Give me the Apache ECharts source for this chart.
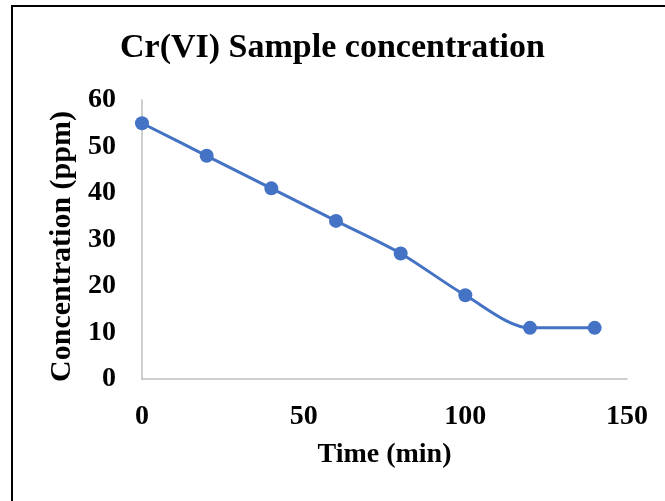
<!DOCTYPE html>
<html>
<head>
<meta charset="utf-8">
<script src="https://cdn.jsdelivr.net/npm/echarts@6/dist/echarts.min.js"></script>
<style>
  html, body { margin: 0; padding: 0; background: #fff; }
  #chart { width: 665px; height: 501px; }
</style>
</head>
<body>
<div id="chart"></div>
<script>
// time (min) and Cr(VI) concentration (ppm)
const timeMin = [0, 20, 40, 60, 80, 100, 120, 140]
const concPpm = [55, 48, 41, 34, 27, 18, 11, 11]

const serif = '"Liberation Serif", "Times New Roman", serif'
const chart = echarts.init(document.getElementById('chart'))

chart.setOption({
  backgroundColor: '#fff',
  animation: false,
  title: {
    text: 'Cr(VI) Sample concentration',
    left: 'center',
    top: 26,
    textStyle: { fontFamily: serif, fontSize: 34, fontWeight: 'bold', color: '#000' }
  },
  graphic: [{
    // chart frame, runs off the right and bottom edges
    type: 'rect',
    shape: { x: 12, y: 6, width: 660, height: 500 },
    style: { fill: 'none', stroke: '#000', lineWidth: 2 }
  }],
  grid: { left: 142, top: 100, right: 38, bottom: 122 },
  xAxis: {
    type: 'value',
    min: 0,
    max: 150,
    interval: 50,
    name: 'Time (min)',
    nameLocation: 'middle',
    nameGap: 62,
    nameTextStyle: { fontFamily: serif, fontSize: 28, fontWeight: 'bold', color: '#000' },
    axisLine: { show: true, lineStyle: { color: '#bfbfbf', width: 1.5 } },
    axisTick: { show: false },
    splitLine: { show: false },
    axisLabel: { margin: 24, fontFamily: serif, fontSize: 28, fontWeight: 'bold', color: '#000' }
  },
  yAxis: {
    type: 'value',
    min: 0,
    max: 60,
    interval: 10,
    name: 'Concentration (ppm)',
    nameLocation: 'middle',
    nameGap: 64,
    nameTextStyle: { fontFamily: serif, fontSize: 30, fontWeight: 'bold', color: '#000', padding: [0, 14, 0, 0] },
    axisLine: { show: true, lineStyle: { color: '#bfbfbf', width: 1.5 } },
    axisTick: { show: false },
    splitLine: { show: false },
    axisLabel: { margin: 26, fontFamily: serif, fontSize: 28, fontWeight: 'bold', color: '#000' }
  },
  series: [{
    type: 'line',
    data: timeMin.map((t, i) => [t, concPpm[i]]),
    smooth: 0.3,
    symbol: 'circle',
    symbolSize: 14,
    lineStyle: { color: '#4472c4', width: 3 },
    itemStyle: { color: '#4472c4' }
  }]
})
</script>
</body>
</html>
